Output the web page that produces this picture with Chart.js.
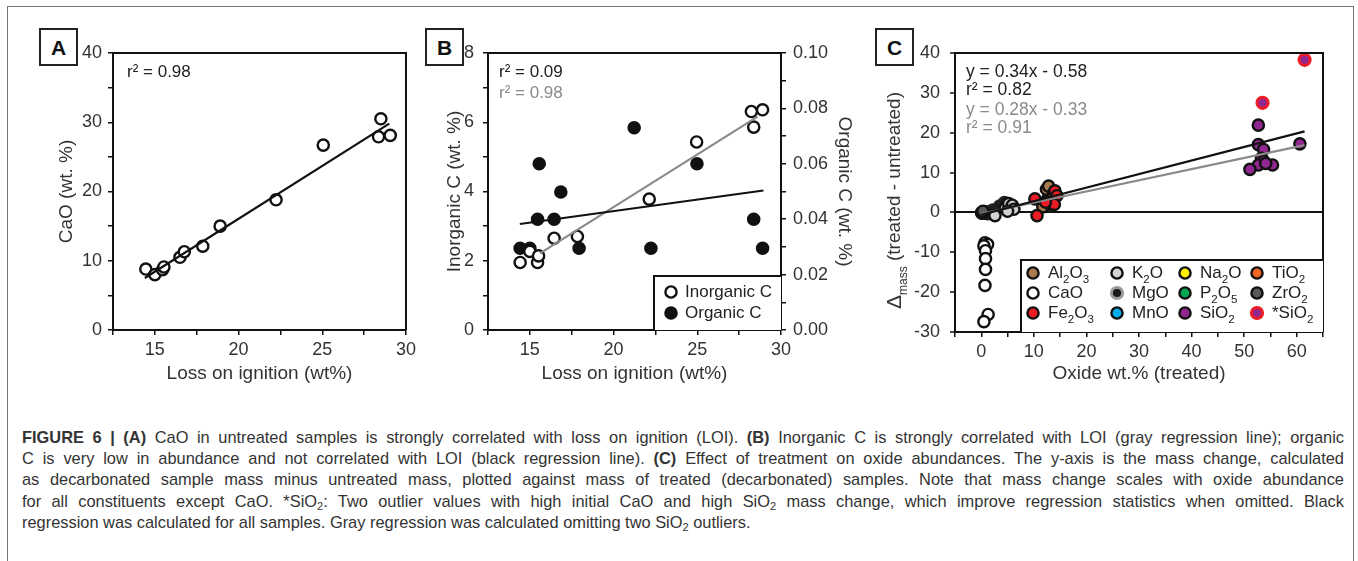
<!DOCTYPE html>
<html>
<head>
<meta charset="utf-8">
<script src="https://cdn.jsdelivr.net/npm/chart.js@4.4.1/dist/chart.umd.min.js"></script>
<style>
  body { margin: 0; background: #fff; width: 1358px; height: 561px; overflow: hidden; font-family: 'Liberation Sans', Arial, sans-serif; }
  #frame { position: absolute; left: 7px; top: 6px; width: 1345px; height: 600px; border: 1px solid #777; }
  .panel { position: absolute; top: 20px; }
  .tag { position: absolute; top: 28px; width: 35px; height: 34px; border: 2px solid #222; font: bold 21px 'Liberation Sans', Arial, sans-serif; text-align: center; line-height: 35px; color: #111; background: #fff; }
  #caption { position: absolute; left: 22px; top: 427px; width: 1322px; font-size: 16.4px; line-height: 21.2px; color: #333; }
  #caption div { height: 21.2px; text-align: justify; text-align-last: justify; white-space: nowrap; }
  #caption div.last { text-align-last: left; }
  #caption sub { font-size: 11px; line-height: 0; vertical-align: -3px; }
</style>
</head>
<body>
<div id="frame"></div>
<canvas id="chartA" class="panel" style="left:20px" width="400" height="375"></canvas>
<canvas id="chartB" class="panel" style="left:420px" width="440" height="375"></canvas>
<canvas id="chartC" class="panel" style="left:860px" width="490" height="375"></canvas>
<div class="tag" style="left:39px">A</div>
<div class="tag" style="left:425px">B</div>
<div class="tag" style="left:875px">C</div>
<div id="caption">
  <div><b>FIGURE 6 | (A)</b> CaO in untreated samples is strongly correlated with loss on ignition (LOI). <b>(B)</b> Inorganic C is strongly correlated with LOI (gray regression line); organic</div>
  <div>C is very low in abundance and not correlated with LOI (black regression line). <b>(C)</b> Effect of treatment on oxide abundances. The y-axis is the mass change, calculated</div>
  <div>as decarbonated sample mass minus untreated mass, plotted against mass of treated (decarbonated) samples. Note that mass change scales with oxide abundance</div>
  <div>for all constituents except CaO. *SiO<sub>2</sub>: Two outlier values with high initial CaO and high SiO<sub>2</sub> mass change, which improve regression statistics when omitted. Black</div>
  <div class="last">regression was calculated for all samples. Gray regression was calculated omitting two SiO<sub>2</sub> outliers.</div>
</div>
<script>
// ---- panel A: CaO vs LOI
const loiA = [14.46, 15.0, 15.46, 15.54, 16.5, 16.76, 17.86, 18.9, 22.24, 25.06, 28.5, 28.36, 29.06];
const caoA = [8.8, 8.0, 8.7, 9.1, 10.5, 11.3, 12.1, 15.0, 18.8, 26.7, 30.5, 27.9, 28.1];
const fitA = { slope: 1.527, icept: -14.48, from: 14.4, to: 29.0 };

// ---- panel B: inorganic / organic C vs LOI
const loiInorg = [14.42, 15.0, 15.46, 15.52, 16.45, 17.84, 22.13, 24.96, 28.23, 28.37, 28.9];
const inorgC = [1.95, 2.27, 1.95, 2.14, 2.65, 2.70, 3.78, 5.43, 6.31, 5.86, 6.36];
const loiOrg = [14.42, 15.0, 15.46, 15.56, 16.45, 16.85, 17.94, 21.23, 22.23, 24.98, 28.37, 28.9];
const orgC = [0.0295, 0.0295, 0.040, 0.060, 0.040, 0.0498, 0.0295, 0.073, 0.0295, 0.060, 0.040, 0.0295];
const fitInorg = { slope: 0.304, icept: -2.53, from: 15.6, to: 28.6 };
const fitOrg = { slope: 0.000831, icept: 0.0263, from: 14.4, to: 28.95 };

// ---- panel C: mass change vs oxide wt.% (treated)
const cao_x = [0.7, 1.2, 0.5, 0.8, 0.8, 0.8, 0.7, 1.3, 0.5];
const cao_y = [-7.6, -8.0, -8.4, -9.6, -11.6, -14.3, -18.3, -25.6, -27.4];
const mno_x = [0.1], mno_y = [0.0];
const p2o5_x = [0.15], p2o5_y = [-0.1];
const tio2_x = [0.6], tio2_y = [0.2];
const na2o_x = [1.2], na2o_y = [-0.3];
const zro2_x = [0.1, 0.3], zro2_y = [-0.2, 0.3];
const mgo_x = [1.0, 1.6, 2.2, 3.5, 4.4, 12.7, 13.4], mgo_y = [-0.1, 0.2, 0.6, 1.6, 2.5, 3.6, 1.9];
const k2o_x = [2.6, 4.6, 5.2, 5.9, 6.2, 5.0], k2o_y = [-0.8, 1.2, 2.2, 1.8, 0.8, 0.3];
const al2o3_x = [12.4, 11.7, 12.8, 13.3, 12.9, 13.7], al2o3_y = [5.8, 1.4, 6.6, 3.0, 2.2, 4.6];
const fe2o3_x = [10.2, 10.6, 14.0, 14.4, 13.9, 12.2], fe2o3_y = [3.4, -0.8, 5.4, 4.2, 2.0, 2.6];
const sio2_x = [52.7, 52.7, 53.7, 53.3, 53.7, 52.7, 51.1, 55.4, 54.1, 60.6];
const sio2_y = [21.9, 17.0, 15.8, 13.6, 12.9, 11.9, 10.8, 11.9, 12.3, 17.2];
const sio2out_x = [53.5, 61.5], sio2out_y = [27.5, 38.3];
const fitAll = { slope: 0.34, icept: -0.58, from: 0, to: 61.5 };
const fitTrim = { slope: 0.28, icept: -0.33, from: 0, to: 61.5 };

const FONT = "'Liberation Sans', Arial, sans-serif";
Chart.defaults.font.family = FONT;
Chart.defaults.color = '#231f20';
Chart.defaults.animation = false;

const pts = (xs, ys) => xs.map((x, i) => ({ x: x, y: ys[i] }));
const fitLine = (f) => [{ x: f.from, y: f.slope * f.from + f.icept }, { x: f.to, y: f.slope * f.to + f.icept }];

const lineSet = (f, color, axis) => ({
  type: 'line', data: fitLine(f), borderColor: color, borderWidth: 2.2,
  pointRadius: 0, fill: false, yAxisID: axis || 'y'
});
const dotSet = (label, data, fill, border, axis, bw) => ({
  type: 'scatter', label: label, data: data, backgroundColor: fill, borderColor: border || '#111',
  borderWidth: bw || 2.4, pointRadius: 5.6, pointHoverRadius: 5.6, yAxisID: axis || 'y'
});

const axisX = (min, max, h, opts) => Object.assign({
  type: 'linear', min: min, max: max,
  afterFit: (s) => { s.height = h; },
  border: { display: true, color: '#111', width: 2 },
  grid: { drawOnChartArea: false, tickLength: 5, color: '#111', lineWidth: 1.5 },
  ticks: { stepSize: 2.5, padding: 4, font: { size: 18 }, color: '#333',
    callback: (v) => (v % 5 === 0 ? v : '') },
  title: { display: true, text: 'Loss on ignition (wt%)', font: { size: 19 }, color: '#333', padding: { top: 0, bottom: 5 } }
}, opts || {});

const axisY = (min, max, step, w, pad, title, cb, opts) => Object.assign({
  type: 'linear', position: 'left', min: min, max: max,
  afterFit: (s) => { s.width = w; },
  border: { display: true, color: '#111', width: 2 },
  grid: { drawOnChartArea: false, tickLength: 5, color: '#111', lineWidth: 1.5 },
  ticks: { stepSize: step, padding: pad, font: { size: 18 }, color: '#333', callback: cb },
  title: { display: !!title, text: title, font: { size: 19 }, color: '#333', padding: { top: 5, bottom: 0 } }
}, opts || {});

// frame around the plot area and free text
const boxPlugin = {
  id: 'box',
  afterDraw(chart, args, o) {
    const { ctx, chartArea: a } = chart;
    ctx.save();
    ctx.strokeStyle = '#111';
    ctx.lineWidth = 2;
    ctx.beginPath();
    ctx.moveTo(a.left, a.top); ctx.lineTo(a.right, a.top); ctx.lineTo(a.right, a.bottom);
    ctx.stroke();
    (o.notes || []).forEach((n) => {
      ctx.fillStyle = n.color;
      ctx.font = n.size + 'px ' + FONT;
      ctx.textBaseline = 'middle';
      ctx.fillText(n.text, a.left + n.dx, a.top + n.dy);
    });
    if (o.legend) o.legend(ctx, a);
    ctx.restore();
  }
};

const circle = (ctx, x, y, fill, stroke, bw) => {
  ctx.beginPath();
  ctx.arc(x, y, 5.6, 0, Math.PI * 2);
  ctx.fillStyle = fill; ctx.fill();
  ctx.lineWidth = bw || 2.4; ctx.strokeStyle = stroke || '#111'; ctx.stroke();
};

// text with subscript pieces: [['Al',0],['2',1],...]
const subText = (ctx, x, y, parts, size) => {
  parts.forEach((p) => {
    ctx.font = (p[1] ? size * 0.68 : size) + 'px ' + FONT;
    ctx.fillText(p[0], x, y + (p[1] ? size * 0.38 : 0));
    x += ctx.measureText(p[0]).width;
  });
  return x;
};

// ---------- A
new Chart(document.getElementById('chartA'), {
  data: {
    datasets: [
      lineSet(fitA, '#111'),
      dotSet('CaO', pts(loiA, caoA), '#fff')
    ]
  },
  options: {
    responsive: false,
    layout: { padding: { left: 30, top: 33, right: 12, bottom: 5 } },
    plugins: { legend: { display: false }, tooltip: { enabled: false },
      box: { notes: [{ text: 'r² = 0.98', dx: 14, dy: 19, size: 17, color: '#222' }] } },
    scales: {
      x: axisX(12.5, 30, 60),
      y: axisY(0, 40, 5, 63, 6, 'CaO (wt. %)', (v) => (v % 10 === 0 ? v : ''))
    }
  },
  plugins: [boxPlugin]
});

// ---------- B
new Chart(document.getElementById('chartB'), {
  data: {
    datasets: [
      lineSet(fitOrg, '#111', 'y2'),
      lineSet(fitInorg, '#8a8a8a'),
      dotSet('Inorganic C', pts(loiInorg, inorgC), '#fff'),
      dotSet('Organic C', pts(loiOrg, orgC), '#111', '#111', 'y2')
    ]
  },
  options: {
    responsive: false,
    layout: { padding: { left: 18, top: 33, right: 4, bottom: 5 } },
    plugins: { legend: { display: false }, tooltip: { enabled: false },
      box: {
        notes: [
          { text: 'r² = 0.09', dx: 11, dy: 19, size: 17, color: '#222' },
          { text: 'r² = 0.98', dx: 11, dy: 40, size: 17, color: '#8a8a8a' }
        ],
        legend: (ctx, a) => {
          const L = a.right - 127, T = a.bottom - 54;
          ctx.fillStyle = '#fff';
          ctx.fillRect(L, T, a.right - L, a.bottom - T);
          ctx.strokeStyle = '#111'; ctx.lineWidth = 2;
          ctx.beginPath(); ctx.moveTo(L, a.bottom); ctx.lineTo(L, T); ctx.lineTo(a.right, T); ctx.stroke();
          circle(ctx, L + 17, T + 16, '#fff');
          circle(ctx, L + 17, T + 37, '#111');
          ctx.fillStyle = '#222'; ctx.font = '17px ' + FONT; ctx.textBaseline = 'middle';
          ctx.fillText('Inorganic C', L + 31, T + 16);
          ctx.fillText('Organic C', L + 31, T + 37);
        }
      } },
    scales: {
      x: axisX(12.5, 30, 60),
      y: axisY(0, 8, 1, 50, 9, 'Inorganic C (wt. %)', (v) => (v % 2 === 0 ? v : '')),
      y2: axisY(0, 0.1, 0.01, 75, 7, 'Organic C (wt. %)',
        (v) => (Math.round(v * 100) % 2 === 0 ? v.toFixed(2) : ''),
        { position: 'right' })
    }
  },
  plugins: [boxPlugin]
});
Chart.getChart('chartB').options.scales.y2.title.padding = { top: 0, bottom: 0 };
Chart.getChart('chartB').update();

// ---------- C
const oxides = [
  { parts: [['Al', 0], ['2', 1], ['O', 0], ['3', 1]], fill: '#a97c50' },
  { parts: [['K', 0], ['2', 1], ['O', 0]], fill: '#d1d3d4' },
  { parts: [['Na', 0], ['2', 1], ['O', 0]], fill: '#fff200' },
  { parts: [['TiO', 0], ['2', 1]], fill: '#f26522' },
  { parts: [['CaO', 0]], fill: '#fff' },
  { parts: [['MgO', 0]], fill: '#1a1a1a', stroke: '#9a9a9a', bw: 3 },
  { parts: [['P', 0], ['2', 1], ['O', 0], ['5', 1]], fill: '#00a651' },
  { parts: [['ZrO', 0], ['2', 1]], fill: '#58595b' },
  { parts: [['Fe', 0], ['2', 1], ['O', 0], ['3', 1]], fill: '#ed1c24' },
  { parts: [['MnO', 0]], fill: '#00aeef' },
  { parts: [['SiO', 0], ['2', 1]], fill: '#92278f' },
  { parts: [['*SiO', 0], ['2', 1]], fill: '#92278f', stroke: '#ed1c24', bw: 3 }
];

const yTitleC = {
  id: 'yTitleC',
  afterDraw(chart) {
    const { ctx, chartArea: a } = chart;
    ctx.save();
    ctx.translate(35, (a.top + a.bottom) / 2 + 8);
    ctx.rotate(-Math.PI / 2);
    ctx.fillStyle = '#333'; ctx.textBaseline = 'middle';
    const parts = [['Δ', 0, 21], ['mass', 1, 12], [' (treated - untreated)', 0, 19]];
    let w = 0;
    parts.forEach((p) => { ctx.font = p[2] + 'px ' + FONT; w += ctx.measureText(p[0]).width; });
    let x = -w / 2;
    parts.forEach((p) => {
      ctx.font = p[2] + 'px ' + FONT;
      ctx.fillText(p[0], x, p[1] ? 9 : 0);
      x += ctx.measureText(p[0]).width;
    });
    ctx.restore();
  }
};

new Chart(document.getElementById('chartC'), {
  data: {
    datasets: [
      lineSet(fitAll, '#111'),
      lineSet(fitTrim, '#8a8a8a'),
      dotSet('*SiO2', pts(sio2out_x, sio2out_y), '#92278f', '#ed1c24', 'y', 3),
      dotSet('SiO2', pts(sio2_x, sio2_y), '#92278f'),
      dotSet('Fe2O3', pts(fe2o3_x, fe2o3_y), '#ed1c24'),
      dotSet('Al2O3', pts(al2o3_x, al2o3_y), '#a97c50'),
      dotSet('K2O', pts(k2o_x, k2o_y), '#d1d3d4'),
      dotSet('ZrO2', pts(zro2_x, zro2_y), '#58595b'),
      dotSet('MgO', pts(mgo_x, mgo_y), '#1a1a1a', '#222'),
      dotSet('Na2O', pts(na2o_x, na2o_y), '#fff200'),
      dotSet('TiO2', pts(tio2_x, tio2_y), '#f26522'),
      dotSet('P2O5', pts(p2o5_x, p2o5_y), '#00a651'),
      dotSet('MnO', pts(mno_x, mno_y), '#00aeef'),
      dotSet('CaO', pts(cao_x, cao_y), '#fff')
    ]
  },
  options: {
    responsive: false,
    layout: { padding: { left: 18, top: 33, right: 27, bottom: 5 } },
    plugins: { legend: { display: false }, tooltip: { enabled: false },
      box: {
        notes: [
          { text: 'y = 0.34x - 0.58', dx: 11, dy: 19, size: 17.5, color: '#222' },
          { text: 'r² = 0.82', dx: 11, dy: 37, size: 17.5, color: '#222' },
          { text: 'y = 0.28x - 0.33', dx: 11, dy: 57, size: 17.5, color: '#8a8a8a' },
          { text: 'r² = 0.91', dx: 11, dy: 75, size: 17.5, color: '#8a8a8a' }
        ],
        legend: (ctx, a) => {
          const L = a.right - 302, T = a.bottom - 72;
          ctx.fillStyle = '#fff';
          ctx.fillRect(L, T, a.right - L, a.bottom - T);
          ctx.strokeStyle = '#111'; ctx.lineWidth = 2;
          ctx.beginPath(); ctx.moveTo(L, a.bottom); ctx.lineTo(L, T); ctx.lineTo(a.right, T); ctx.stroke();
          const cols = [12, 96, 164, 236];
          oxides.forEach((o, i) => {
            const cx = L + cols[i % 4], cy = T + 13 + Math.floor(i / 4) * 20;
            circle(ctx, cx, cy, o.fill, o.stroke, o.bw);
            ctx.fillStyle = '#222'; ctx.textBaseline = 'middle';
            subText(ctx, cx + 15, cy, o.parts, 17);
          });
        }
      } },
    scales: {
      x: axisX(-5, 65, 58, {
        ticks: { stepSize: 5, padding: 4, font: { size: 18 }, color: '#333', callback: (v) => (v % 10 === 0 ? v : '') },
        title: { display: true, text: 'Oxide wt.% (treated)', font: { size: 19 }, color: '#333', padding: { top: 0, bottom: 5 } }
      }),
      y: axisY(-30, 40, 5, 77, 10, '', (v) => (v % 10 === 0 ? v : ''), {
        grid: { drawOnChartArea: true, tickLength: 5, tickColor: '#111', tickWidth: 1.5,
          color: (c) => (c.tick.value === 0 ? '#111' : 'rgba(0,0,0,0)'), lineWidth: 2 }
      })
    }
  },
  plugins: [boxPlugin, yTitleC]
});
</script>
</body>
</html>
